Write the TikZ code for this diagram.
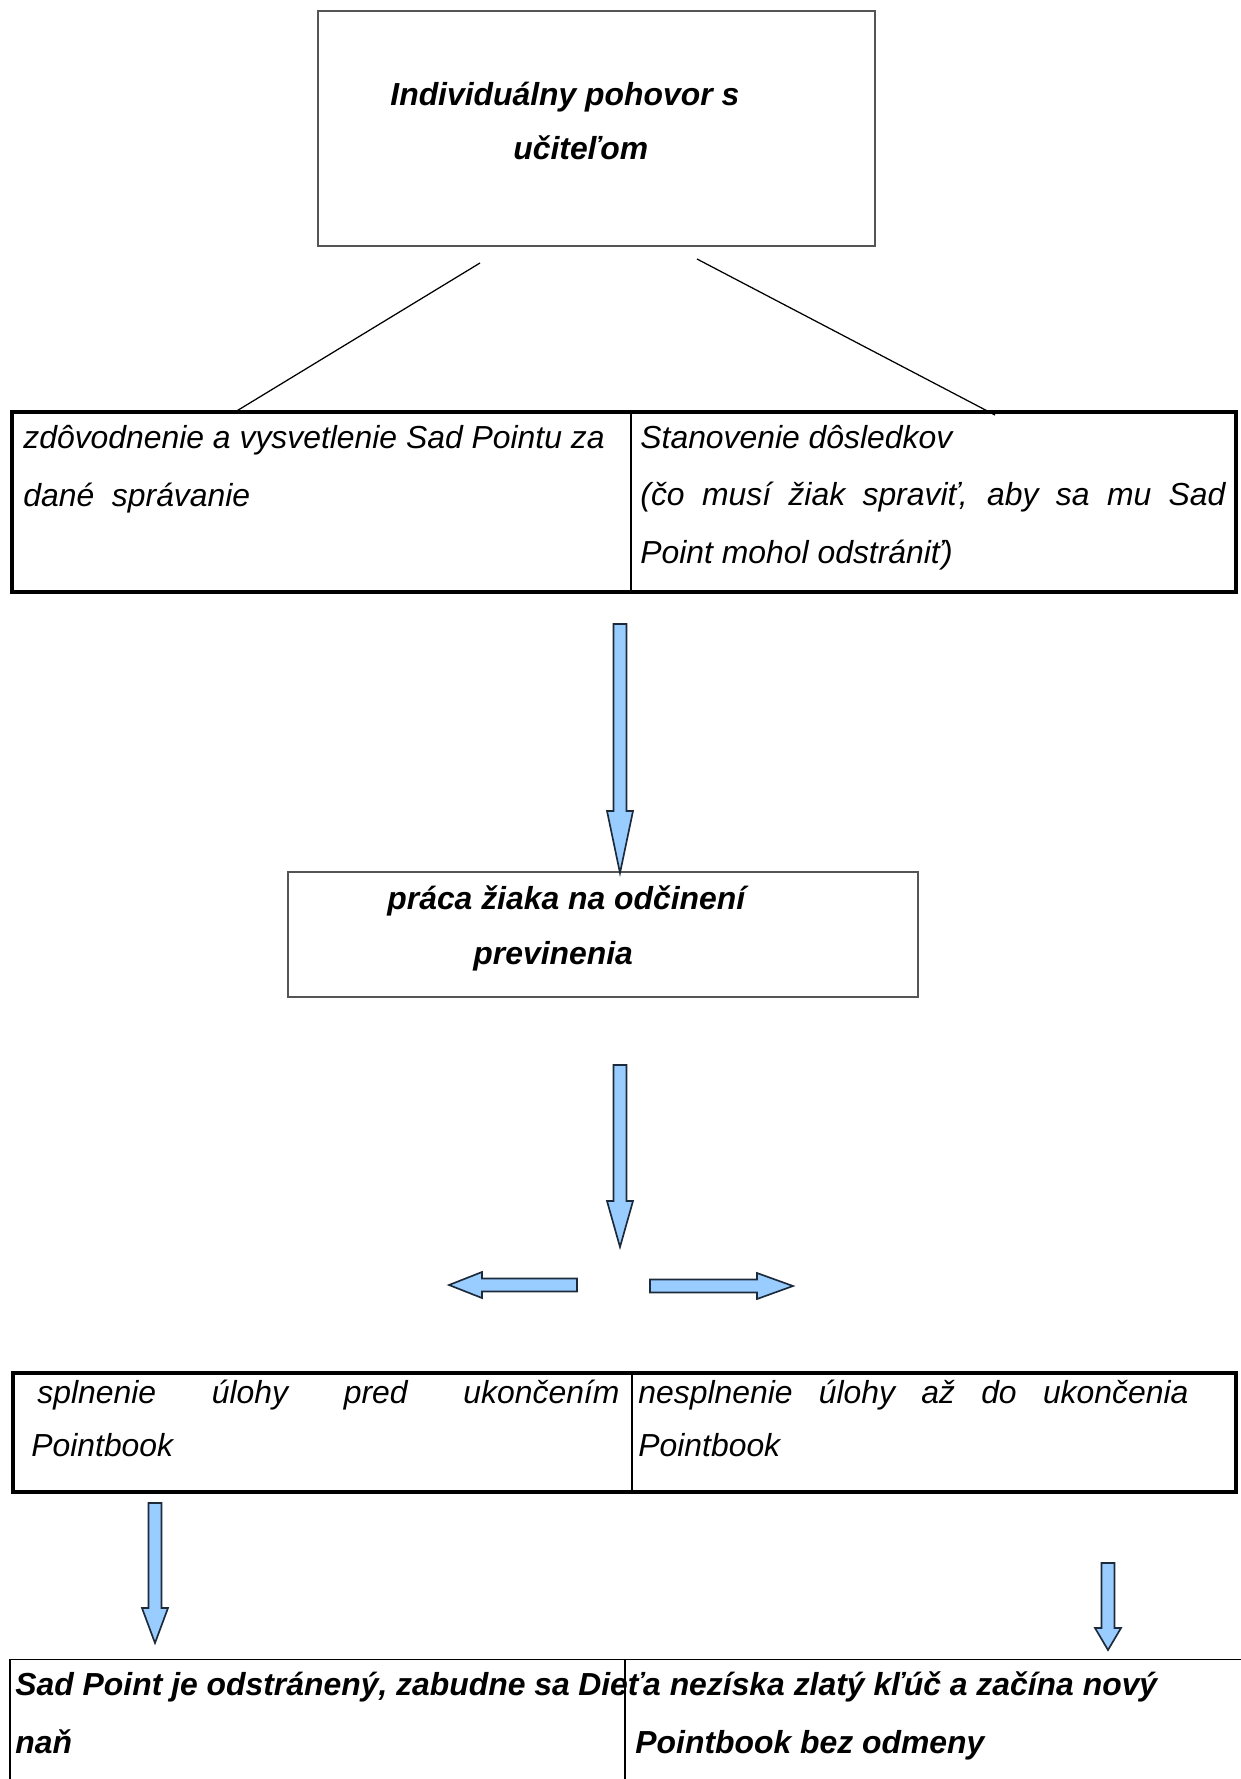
\documentclass[tikz,border=0pt]{standalone}
\usepackage{fontspec}
\setmainfont{Liberation Sans}
\usetikzlibrary{positioning}
\definecolor{arrowfill}{HTML}{99CCFF}
\definecolor{arrowline}{HTML}{1C2A3A}
\definecolor{boxline}{HTML}{555555}
\tikzset{
  cellbox/.style 2 args={minimum width=#1*0.48pt, minimum height=#2*0.48pt,
    inner sep=0pt, outer sep=0pt, anchor=north west},
  lightframe/.style={draw=boxline, line width=0.5pt},
  thickrule/.style={line width=1.6pt},
  thinrule/.style={line width=0.7pt},
  celltext/.style={anchor=base west, inner sep=0pt, align=left,
    font=\itshape\fontsize{15.3}{#1}\selectfont},
  headtext/.style={celltext=#1, font=\bfseries\itshape\fontsize{15.3}{#1}\selectfont},
  blockarrow/.style={draw=arrowline, fill=arrowfill, line width=0.8pt, line join=miter},
  link/.style={line width=0.6pt}
}
% block arrows drawn as outlines: x, top, head base, tip
\newcommand{\downblock}[4]{%
  \draw[blockarrow] (#1-6.5,#2) -- (#1+6.5,#2) -- (#1+6.5,#3) -- (#1+13,#3)
    -- (#1,#4) -- (#1-13,#3) -- (#1-6.5,#3) -- cycle;}
% y, tail, head base, tip
\newcommand{\sideblock}[4]{%
  \draw[blockarrow] (#2,#1-6.5) -- (#3,#1-6.5) -- (#3,#1-13) -- (#4,#1)
    -- (#3,#1+13) -- (#3,#1+6.5) -- (#2,#1+6.5) -- cycle;}
\begin{document}
\begin{tikzpicture}[x=0.48pt, y=-0.48pt]
\useasboundingbox (0,0) rectangle (1240,1779);

% interview box (text nodes are placed by their last baseline)
\node[cellbox={557}{235}, lightframe] (talk) at (318,11) {};
\node[headtext=26.2pt] (talktext) at ([shift={(72,149)}]talk.north west)
  {Individuálny pohovor s\\\hspace*{59pt}učiteľom};

% explanation / consequences
\node[cellbox={619}{180}] (reason) at (12,412) {};
\node[cellbox={605}{180}] (consequence) at (631,412) {};
\draw[thinrule] (reason.north east) -- (reason.south east);
\draw[thickrule] (reason.north west) rectangle (consequence.south east);
\node[celltext=27.4pt] (reasontext) at ([shift={(11,94)}]reason.north west)
  {zdôvodnenie a vysvetlenie Sad Pointu za\\dané\ \ správanie};
\node[celltext=27.4pt] (consequencetext) at ([shift={(9,151)}]consequence.north west)
  {Stanovenie dôsledkov\\\makebox[280.8pt][s]{(čo musí žiak spraviť, aby sa mu Sad}\\Point mohol odstrániť)};

\coordinate (talkl) at (480,263);
\coordinate (talkr) at (697,259);
\coordinate (reasontop) at (235,412);
\coordinate (consequencetop) at (995,415);
\draw[link] (talkl) -- (reasontop);
\draw[link] (talkr) -- (consequencetop);

% pupil's work
\node[cellbox={630}{125}, lightframe] (work) at (288,872) {};
\node[headtext=26.4pt] (worktext) at ([shift={(99,92)}]work.north west)
  {práca žiaka na odčinení\\\hspace*{41.3pt}previnenia};

\downblock{620}{624}{811}{873}
\downblock{620}{1065}{1201}{1247}
\sideblock{1285}{577}{482}{449}
\sideblock{1286}{650}{757}{793}

% fulfilled / not fulfilled
\node[cellbox={619}{119}] (done) at (13,1373) {};
\node[cellbox={604}{119}] (notdone) at (632,1373) {};
\draw[thinrule] (done.north east) -- (done.south east);
\draw[thickrule] (done.north west) rectangle (notdone.south east);
\node[celltext=25pt] (donetext) at ([shift={(24,83)}]done.north west)
  {\makebox[279.4pt][s]{splnenie úlohy pred ukončením}\\\hspace*{-2.9pt}Pointbook};
\node[celltext=25pt] (notdonetext) at ([shift={(6,83)}]notdone.north west)
  {\makebox[264pt][s]{nesplnenie úlohy až do ukončenia}\\Pointbook};

\downblock{155}{1503}{1608}{1643}
\downblock{1108}{1563}{1628}{1650}

% outcomes
\node[cellbox={615}{200}, draw, line width=0.5pt] (removed) at (10,1659) {};
\node[cellbox={700}{200}, draw, line width=0.5pt] (restart) at (625,1659) {};
\node[headtext=27.4pt] (removedtext) at ([shift={(5,94)}]removed.north west)
  {Sad Point je odstránený, zabudne sa\\naň};
\node[headtext=27.4pt] (restarttext) at ([shift={(10,94)}]restart.north west)
  {\hspace*{-27.4pt}Dieťa nezíska zlatý kľúč a začína nový\\Pointbook bez odmeny};
\end{tikzpicture}
\end{document}
